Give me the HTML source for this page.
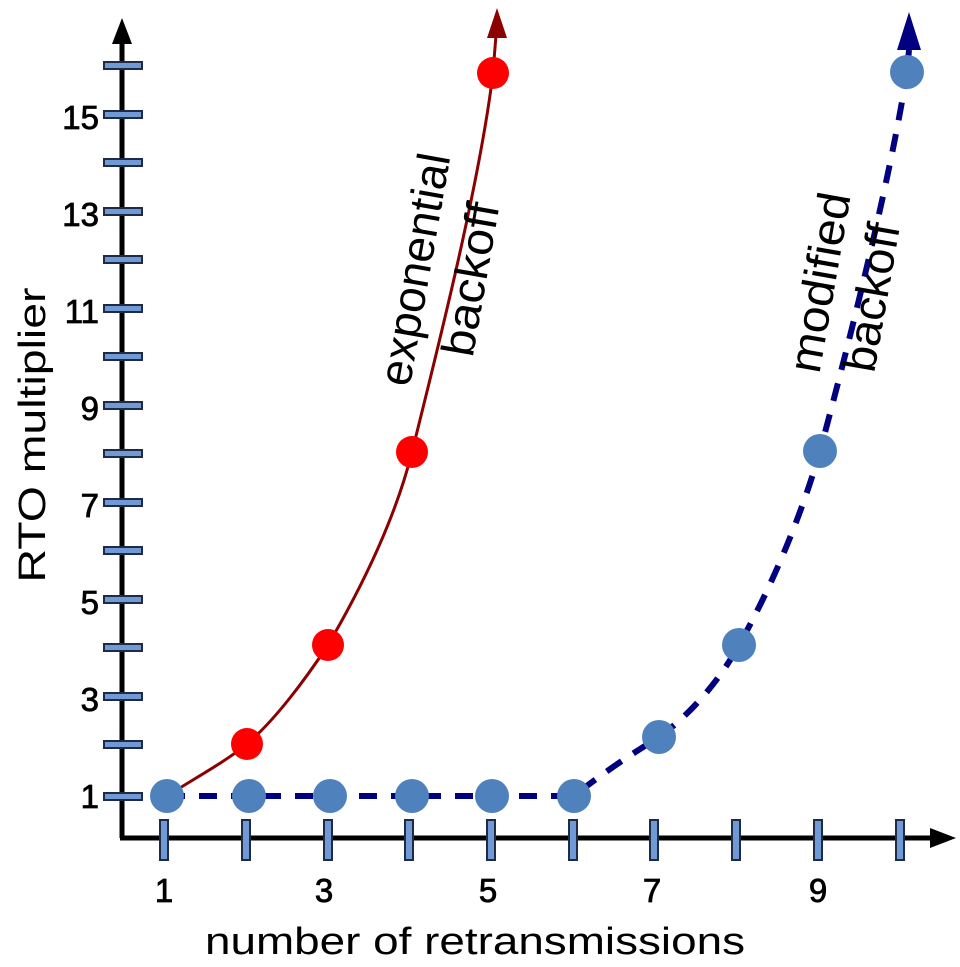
<!DOCTYPE html>
<html><head><meta charset="utf-8"><style>html,body{margin:0;padding:0;background:#fff}</style></head>
<body>
<svg width="960" height="962" viewBox="0 0 960 962" xmlns="http://www.w3.org/2000/svg" font-family="Liberation Sans, sans-serif">
<line x1="122" y1="838" x2="122" y2="40" stroke="#000" stroke-width="5"/>
<polygon points="122,18 112,44 132,44" fill="#000"/>
<line x1="120" y1="838" x2="935" y2="838" stroke="#000" stroke-width="5"/>
<polygon points="956,838 930,828 930,848" fill="#000"/>
<g fill="#6f9ad6" stroke="#1f2a44" stroke-width="2">
<rect x="104" y="793" width="38" height="7"/>
<rect x="104" y="741" width="38" height="7"/>
<rect x="104" y="693" width="38" height="7"/>
<rect x="104" y="644" width="38" height="7"/>
<rect x="104" y="596" width="38" height="7"/>
<rect x="104" y="547" width="38" height="7"/>
<rect x="104" y="499" width="38" height="7"/>
<rect x="104" y="450" width="38" height="7"/>
<rect x="104" y="402" width="38" height="7"/>
<rect x="104" y="353" width="38" height="7"/>
<rect x="104" y="305" width="38" height="7"/>
<rect x="104" y="256" width="38" height="7"/>
<rect x="104" y="208" width="38" height="7"/>
<rect x="104" y="159" width="38" height="7"/>
<rect x="104" y="111" width="38" height="7"/>
<rect x="104" y="62" width="38" height="7"/>
</g>
<g fill="#6f9ad6" stroke="#1f2a44" stroke-width="2">
<rect x="160" y="820" width="8" height="40"/>
<rect x="242" y="820" width="8" height="40"/>
<rect x="324" y="820" width="8" height="40"/>
<rect x="405" y="820" width="8" height="40"/>
<rect x="487" y="820" width="8" height="40"/>
<rect x="569" y="820" width="8" height="40"/>
<rect x="650" y="820" width="8" height="40"/>
<rect x="732" y="820" width="8" height="40"/>
<rect x="814" y="820" width="8" height="40"/>
<rect x="896" y="820" width="8" height="40"/>
</g>
<g font-size="33" text-anchor="end" fill="#000" stroke="#000" stroke-width="0.8">
<text x="99" y="808">1</text>
<text x="99" y="711">3</text>
<text x="99" y="614">5</text>
<text x="99" y="517">7</text>
<text x="99" y="420">9</text>
<text x="99" y="323">11</text>
<text x="99" y="226">13</text>
<text x="99" y="129">15</text>
</g>
<g font-size="33" text-anchor="middle" fill="#000" stroke="#000" stroke-width="0.8">
<text x="164" y="902">1</text>
<text x="324" y="902">3</text>
<text x="488" y="902">5</text>
<text x="652" y="902">7</text>
<text x="818" y="902">9</text>
</g>
<text x="475" y="954" font-size="38" text-anchor="middle" textLength="540" lengthAdjust="spacingAndGlyphs">number of retransmissions</text>
<text transform="translate(45,435) rotate(-90)" font-size="38" text-anchor="middle" textLength="295" lengthAdjust="spacingAndGlyphs">RTO multiplier</text>
<path d="M167,796 C195,778 225,762 247,744 C275,720 305,680 328,645 C360,590 395,520 412,452 C440,340 480,180 493,73 L496,35" fill="none" stroke="#8b0000" stroke-width="3"/>
<polygon points="497,8 487,38 507,38" fill="#8b0000"/>
<path d="M167,796 L574,796 C600,775 630,755 659,737 C690,715 720,680 739,645 C770,590 800,520 820,451 C850,340 890,180 907,72 L909,50" fill="none" stroke="#000080" stroke-width="6" stroke-dasharray="18,14"/>
<polygon points="909,12 897,50 921,50" fill="#000080"/>
<g fill="#ff0000">
<circle cx="247" cy="744" r="16"/>
<circle cx="328" cy="645" r="16"/>
<circle cx="412" cy="452" r="16"/>
<circle cx="493" cy="73" r="16"/>
</g>
<g fill="#4f81bd">
<circle cx="167" cy="796" r="17"/>
<circle cx="249" cy="796" r="17"/>
<circle cx="330" cy="796" r="17"/>
<circle cx="412" cy="796" r="17"/>
<circle cx="492" cy="796" r="17"/>
<circle cx="574" cy="796" r="17"/>
<circle cx="659" cy="737" r="17"/>
<circle cx="739" cy="645" r="17"/>
<circle cx="820" cy="451" r="17"/>
<circle cx="907" cy="72" r="17"/>
</g>
<g font-size="46" text-anchor="middle" fill="#000">
<text transform="translate(430,272) rotate(-80)" textLength="235" lengthAdjust="spacingAndGlyphs">exponential</text>
<text transform="translate(486,282) rotate(-80)" textLength="155" lengthAdjust="spacingAndGlyphs">backoff</text>
<text transform="translate(835,285) rotate(-80)" textLength="182" lengthAdjust="spacingAndGlyphs">modified</text>
<text transform="translate(887,300) rotate(-80)" textLength="150" lengthAdjust="spacingAndGlyphs">backoff</text>
</g>
</svg>
</body></html>
